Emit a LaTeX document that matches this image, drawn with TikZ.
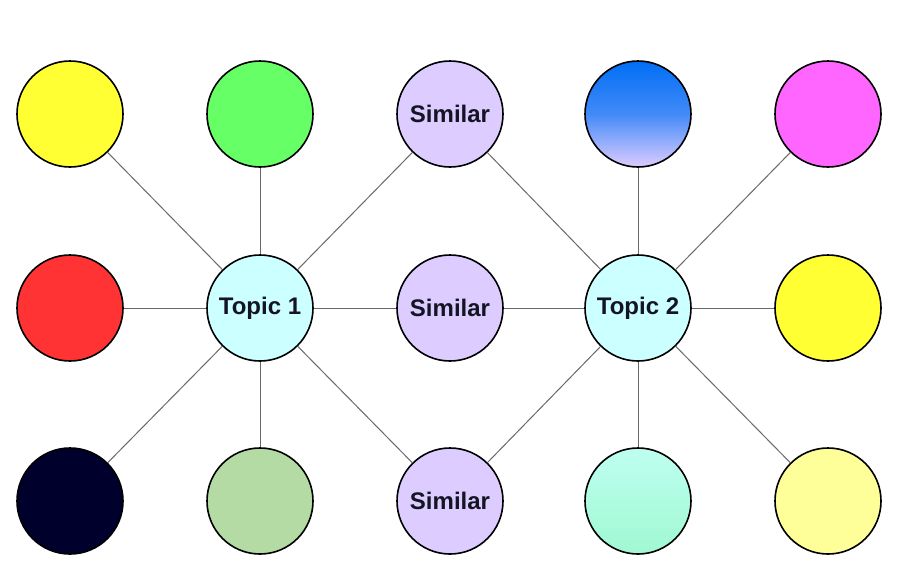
\documentclass[tikz,border=0pt]{standalone}
\usepackage{fontspec}
\setmainfont{Liberation Sans}
\definecolor{cyel}{RGB}{255,255,51}
\definecolor{cgreen}{RGB}{102,255,102}
\definecolor{clav}{RGB}{221,204,255}
\definecolor{cblue}{RGB}{0,110,245}
\definecolor{cmag}{RGB}{255,102,255}
\definecolor{cred}{RGB}{255,51,51}
\definecolor{ctopic}{RGB}{204,255,255}
\definecolor{cnavy}{RGB}{0,0,45}
\definecolor{csage}{RGB}{180,219,163}
\definecolor{cminttop}{RGB}{190,255,240}
\definecolor{cmintbot}{RGB}{160,248,210}
\definecolor{clyel}{RGB}{255,255,153}
\definecolor{cedge}{RGB}{105,105,105}
\definecolor{ctext}{RGB}{20,20,35}
\tikzset{
  ball/.style={circle, draw=black, line width=1.6pt, minimum size=106pt, inner sep=0pt,
    text=ctext, font=\bfseries\fontsize{24}{26}\selectfont},
  link/.style={draw=cedge, line width=1pt}
}
\begin{document}
\begin{tikzpicture}[x=1pt,y=-1pt]
\useasboundingbox[fill=white] (0,0) rectangle (912,582);
% row 1
\node[ball, fill=cyel] (a1) at (70,114) {};
\node[ball, fill=cgreen] (a2) at (260,114) {};
\node[ball, fill=clav] (s1) at (450,114) {Similar};
\node[ball, top color=cblue, bottom color=clav, middle color=cblue!70!clav] (a4) at (638,114) {};
\node[ball, fill=cmag] (a5) at (828,114) {};
% row 2
\node[ball, fill=cred] (b1) at (70,308) {};
\node[ball, fill=ctopic] (t1) at (260,308) {Topic 1};
\node[ball, fill=clav] (s2) at (450,308) {Similar};
\node[ball, fill=ctopic] (t2) at (638,308) {Topic 2};
\node[ball, fill=cyel] (b5) at (828,308) {};
% row 3
\node[ball, fill=cnavy] (c1) at (70,501) {};
\node[ball, fill=csage] (c2) at (260,501) {};
\node[ball, fill=clav] (s3) at (450,501) {Similar};
\node[ball, top color=cminttop, bottom color=cmintbot] (c4) at (638,501) {};
\node[ball, fill=clyel] (c5) at (828,501) {};
% links
\foreach \n in {a1,a2,s1,b1,s2,c1,c2,s3} \draw[link] (t1) -- (\n);
\foreach \n in {s1,a4,a5,s2,b5,s3,c4,c5} \draw[link] (t2) -- (\n);
\end{tikzpicture}
\end{document}
